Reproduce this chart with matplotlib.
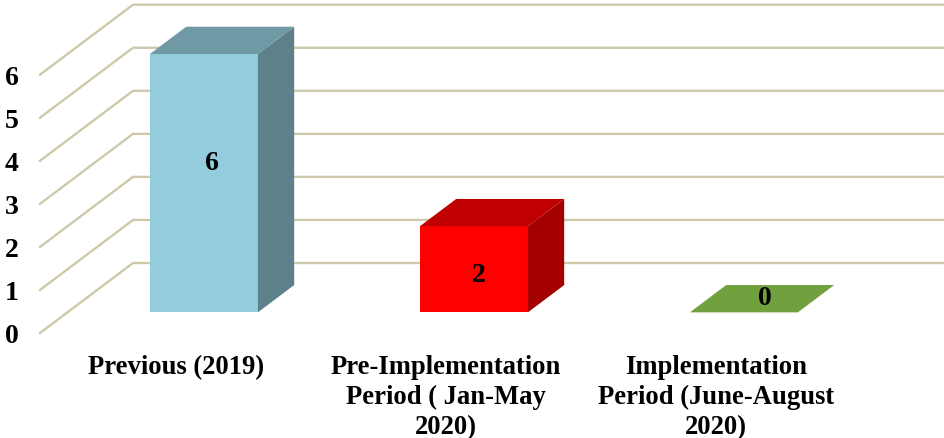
import matplotlib
matplotlib.use("Agg")
import matplotlib.pyplot as plt
from matplotlib.patches import Polygon

categories = ["Previous (2019)", "Pre-Implementation\nPeriod ( Jan-May\n2020)", "Implementation\nPeriod (June-August\n2020)"]
values = [6, 2, 0]
y_ticks = [0, 1, 2, 3, 4, 5, 6]

front_colors = ["#93CDDD", "#FF0000", "#71A03E"]
top_colors = ["#7099A6", "#C00000", "#71A03E"]
side_colors = ["#5E808A", "#A50000", "#71A03E"]
GRID = "#CFC9AC"

W, H = 945, 439
PX_X, PX_Y = 270.0, 43.05          # pixels per category / per value
LEFT, BOTTOM = 40.0, 345.0         # axes edges in pixels
ZERO_X, ZERO_Y = 176.0, 334.0      # pixel of category 0 / value 0

fig = plt.figure(figsize=(W / 100, H / 100), dpi=100, facecolor="white")
ax = fig.add_axes([LEFT / W, 1 - BOTTOM / H, 1 - LEFT / W, BOTTOM / H])
ax.set_xlim((LEFT - ZERO_X) / PX_X, (W - ZERO_X) / PX_X)
ax.set_ylim((ZERO_Y - BOTTOM) / PX_Y, ZERO_Y / PX_Y)
for s in ax.spines.values():
    s.set_visible(False)

font = dict(family="Liberation Serif", fontweight="bold", color="black")
ax.set_xticks(range(len(categories)))
ax.set_xticklabels(categories, fontsize=19.2, linespacing=1.25, **font)
ax.set_yticks(y_ticks)
ax.set_yticklabels([str(t) for t in y_ticks], fontsize=20, **font)
ax.tick_params(axis="x", length=0, pad=7.5)
ax.tick_params(axis="y", length=0, pad=15.5)

# depth of the floor, in data units
DX, DY = 93 / PX_X, 70 / PX_Y
x0 = ax.get_xlim()[0]
x1 = ax.get_xlim()[1]
for t in y_ticks:
    ax.plot([x0, x0 + DX, x1], [t, t + DY, t + DY], color=GRID, lw=1.7,
            solid_joinstyle="miter", clip_on=False, zorder=1)

# bars sit between these depth fractions
F0, F1 = 0.295, 0.39 + 0.295
HALF = 54 / PX_X
label_dx = [8, 5, 21]               # px from the front-face centre
label_dy = [150, 38, 15]            # px above the bar base

for i, v in enumerate(values):
    xl = i - HALF + 0.30 * DX
    xr = i + HALF + 0.30 * DX
    yb = F0 * DY
    yt = yb + v
    ddx, ddy = (F1 - F0) * DX, (F1 - F0) * DY
    if v > 0:
        ax.add_patch(Polygon([(xl, yb), (xr, yb), (xr, yt), (xl, yt)], closed=True,
                             fc=front_colors[i], ec="none", zorder=3))
        ax.add_patch(Polygon([(xr, yb), (xr + ddx, yb + ddy), (xr + ddx, yt + ddy), (xr, yt)],
                             closed=True, fc=side_colors[i], ec="none", zorder=3))
    ax.add_patch(Polygon([(xl, yt), (xr, yt), (xr + ddx, yt + ddy), (xl + ddx, yt + ddy)],
                         closed=True, fc=top_colors[i], ec="none", zorder=3))
    ax.text(i + 0.30 * DX + label_dx[i] / PX_X, yb + label_dy[i] / PX_Y, str(v),
            ha="center", va="center", fontsize=20, zorder=4, **font)

fig.savefig("out.png", dpi=100)
